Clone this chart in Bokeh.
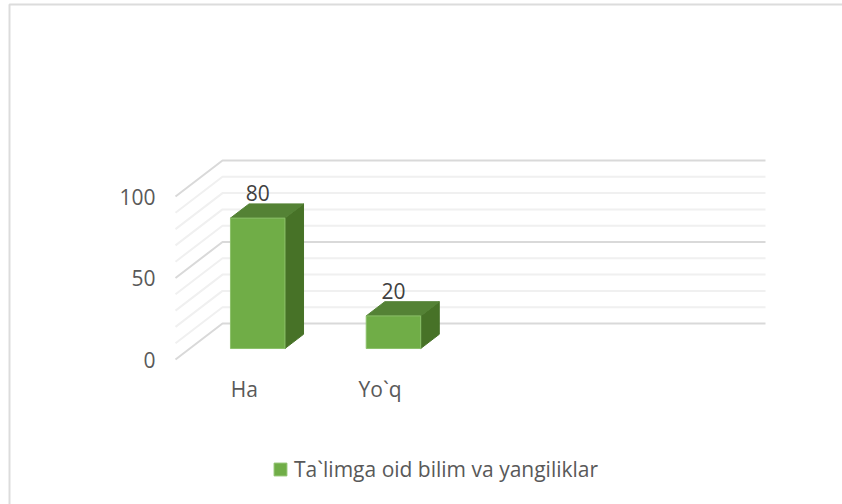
from bokeh.embed import file_html
from bokeh.resources import INLINE
from bokeh.plotting import figure
from bokeh.models import Range1d, Legend, LegendItem
from bokeh.core.properties import value

categories = ["Ha", "Yo`q"]
series_name = "Ta`limga oid bilim va yangiliklar"
series_values = [80, 20]
major_ticks = [0, 50, 100]
minor_ticks = [10, 20, 30, 40, 60, 70, 80, 90]
n_slots = 4

W, H = 842, 504
# pixel calibration of the pseudo-3D chart
PX_X0, PX_Y0 = 175.0, 359.0      # front-left corner of the floor
SLOT = 135.75                    # px per category slot
PX_UNIT = 1.63                   # px per value unit
DEPTH_X = 47.0 / SLOT            # depth offset in category units
DEPTH_Y = 36.0 / PX_UNIT         # depth offset in value units
BAR_W = 54.5 / SLOT
D0, D1 = 0.305, 0.70             # bar's front and back depth

p = figure(width=W, height=H, output_backend="svg", toolbar_location=None,
           x_range=Range1d(-PX_X0 / SLOT, (W - PX_X0) / SLOT),
           y_range=Range1d((PX_Y0 - H) / PX_UNIT, PX_Y0 / PX_UNIT),
           min_border=0, margin=0,
           outline_line_color=None, background_fill_color="white",
           border_fill_color="white")
p.axis.visible = False
p.grid.visible = False


def proj(x, y, d):
    return x + d * DEPTH_X, y + d * DEPTH_Y


def px_x(px):
    return (px - PX_X0) / SLOT


def px_y(py):
    return (PX_Y0 - py) / PX_UNIT


# outer chart frame: left and top edges only
p.line([px_x(9), px_x(9), px_x(842)], [px_y(504), px_y(4), px_y(4)],
       line_color="#dcdcdc", line_width=2)


def grid_lines(ticks, color, width):
    xs, ys = [], []
    for t in ticks:
        fx, fy = proj(0, t, 0)
        bx, by = proj(0, t, 1)
        ex, ey = proj(n_slots, t, 1)
        xs.append([fx, bx, ex])
        ys.append([fy, by, ey])
    p.multi_line(xs, ys, line_color=color, line_width=width)


grid_lines(minor_ticks, "#f0f0f0", 2)
grid_lines(major_ticks, "#d9d9d9", 2)

# bars
lefts = [i + 0.5 - BAR_W / 2 for i in range(len(series_values))]
rights = [l + BAR_W for l in lefts]

side_x, side_y, top_x, top_y = [], [], [], []
fl, fr, fb, ft = [], [], [], []
for l, r, v in zip(lefts, rights, series_values):
    a = proj(l, 0, D0)
    b = proj(r, 0, D0)
    c = proj(r, v, D0)
    e = proj(l, v, D0)
    fl.append(a[0]); fr.append(b[0]); fb.append(a[1]); ft.append(c[1])
    b2 = proj(r, 0, D1)
    c2 = proj(r, v, D1)
    e2 = proj(l, v, D1)
    side_x.append([b[0], b2[0], c2[0], c[0]])
    side_y.append([b[1], b2[1], c2[1], c[1]])
    top_x.append([e[0], c[0], c2[0], e2[0]])
    top_y.append([e[1], c[1], c2[1], e2[1]])

p.patches(side_x, side_y, fill_color="#477227", line_color="#477227", line_width=1)
p.patches(top_x, top_y, fill_color="#548235", line_color="#548235", line_width=1)
front = p.quad(left=fl, right=fr, bottom=fb, top=ft, fill_color="#70ad47",
               line_color="#8cc06a", line_width=1)

FONT = value("Open Sans")

# value axis labels
tick_x = [proj(0, t, 0)[0] for t in major_ticks]
tick_y = [proj(0, t, 0)[1] for t in major_ticks]
p.text(tick_x, tick_y, text=[str(t) for t in major_ticks], x_offset=-20,
       text_align="right", text_baseline="middle", text_font=FONT,
       text_font_size="21px", text_color="#595959")

# category labels
cat_x = [i + 0.5 for i in range(len(categories))]
p.text(cat_x, [0] * len(categories), text=categories, x_offset=1, y_offset=29,
       text_align="center", text_baseline="middle", text_font=FONT,
       text_font_size="21px", text_color="#595959")

# data labels
lab_x = [(a + b) / 2 for a, b in zip(fl, fr)]
p.text(lab_x, ft, text=[str(v) for v in series_values], y_offset=-25,
       text_align="center", text_baseline="middle", text_font=FONT,
       text_font_size="21px", text_color="#404040")

legend = Legend(items=[LegendItem(label=series_name, renderers=[front])],
                location=(272, 21), orientation="horizontal",
                border_line_color=None, background_fill_alpha=0,
                label_text_font="Open Sans", label_text_font_size="21px",
                label_text_color="#595959", glyph_width=16, glyph_height=16,
                label_standoff=6, margin=0, padding=4)
p.add_layout(legend)

open("out.html", "w").write(file_html(p, INLINE))
